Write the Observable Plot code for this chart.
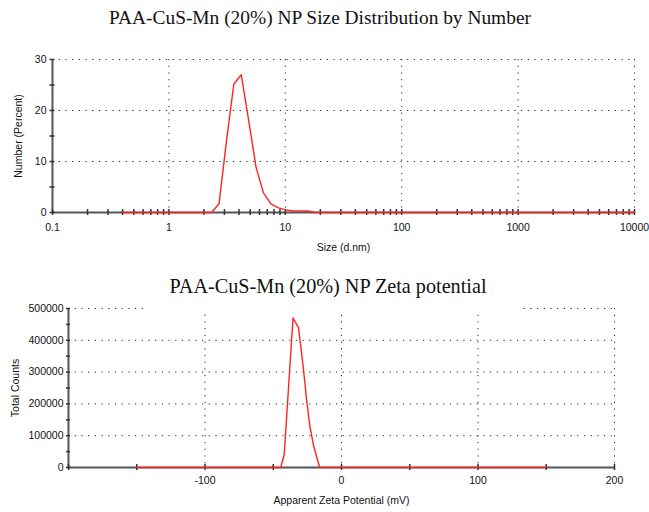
<!DOCTYPE html>
<html>
<head>
<meta charset="utf-8">
<script src="https://cdn.jsdelivr.net/npm/d3@7"></script>
<script src="https://cdn.jsdelivr.net/npm/@observablehq/plot@0.6"></script>
<style>
  html, body { margin: 0; padding: 0; background: #fff; }
  #page { position: relative; width: 649px; height: 512px; overflow: hidden; background: #fff; }
  .title { position: absolute; font-family: "Liberation Serif", "Times New Roman", serif; font-size: 19.4px; color: #111; text-align: center; white-space: nowrap; }
  #t1 { top: 6px; left: 0; width: 640px; line-height: 24px; }
  #t2 { top: 274px; left: 147px; width: 362px; padding-right: 10px; line-height: 24px; height: 37px; background: #fff; z-index: 2; font-size: 20.2px; }
  #c1 { position: absolute; top: 40px; left: 0; }
  #c2 { position: absolute; top: 265px; left: 0; }
</style>
</head>
<body>
<div id="page">
  <div class="title" id="t1">PAA-CuS-Mn (20%) NP Size Distribution by Number</div>
  <div id="c1"></div>
  <div id="c2"></div>
  <div class="title" id="t2">PAA-CuS-Mn (20%) NP Zeta potential</div>
</div>
<script>
// ---- Size distribution by number ----
const sizeNm      = [0.4, 2.328, 2.696, 3.122, 3.615, 4.187, 4.849, 5.615, 6.503, 7.531, 8.721, 10.10, 11.70, 13.54, 15.69, 18.17, 10000];
const numberPct   = [0,   0,     1.7,   14.0,  25.2,  27.0,  18.0,  8.8,   3.8,   1.7,   0.9,   0.5,   0.3,   0.3,   0.3,   0,     0];
const sizeMajorTicks = [0.1, 1, 10, 100, 1000, 10000];
const sizeMinorTicks = [0.2,0.3,0.4,0.5,0.6,0.7,0.8,0.9, 2,3,4,5,6,7,8,9, 20,30,40,50,60,70,80,90, 200,300,400,500,600,700,800,900, 2000,3000,4000,5000,6000,7000,8000,9000];
const numberTicks = [0, 10, 20, 30];
const numberMinorTicks = [5, 15, 25];

// ---- Zeta potential ----
const zetaMv      = [-150, -44.5, -42,   -35.5,  -31.5,  -28,    -25.5,  -23,    -20.5, -18,   -16, 150];
const totalCounts = [0,    0,     40000, 470000, 440000, 315000, 210000, 125000, 70000, 30000, 0,   0];
const zetaTicks   = [-200, -100, 0, 100, 200];
const zetaLabelTicks = [-100, 0, 100, 200];
const zetaMinorTicks = [-150, -50, 50, 150];
const countTicks  = [0, 100000, 200000, 300000, 400000, 500000];
const countMinorTicks = [50000, 150000, 250000, 350000, 450000];

const sizeData = sizeNm.map((s, i) => ({size: s, pct: numberPct[i]}));
const zetaData = zetaMv.map((z, i) => ({zeta: z, counts: totalCounts[i]}));

const AXIS = "#555";
const GRID = "#222";
const RED = "#ff2424";
const DASH = "1.2,5.5";
const textStyle = {fontFamily: "'Liberation Sans', Arial, sans-serif", fontSize: "10.5px", color: "#111", background: "#fff", overflow: "visible"};

const p1 = Plot.plot({
  width: 649, height: 225,
  marginTop: 19, marginBottom: 53, marginLeft: 52, marginRight: 15,
  style: textStyle,
  x: {type: "log", domain: [0.1, 10000]},
  y: {domain: [0, 30]},
  marks: [
    Plot.gridX(sizeMajorTicks.slice(1), {stroke: GRID, strokeOpacity: 1, strokeDasharray: DASH}),
    Plot.gridY(numberTicks.slice(1), {stroke: GRID, strokeOpacity: 1, strokeDasharray: DASH}),
    Plot.ruleX([0.1], {stroke: AXIS, strokeWidth: 2}),
    Plot.ruleY([0], {stroke: AXIS, strokeWidth: 2}),
    Plot.axisX(sizeMajorTicks.concat(sizeMinorTicks), {fill: "none", stroke: "#333", tickSize: 6, dy: -3, label: null, strokeWidth: 1.5}),
    Plot.axisX(sizeMajorTicks, {stroke: "none", tickSize: 0, tickPadding: 11, tickFormat: d => String(d), label: "Size (d.nm)", labelAnchor: "center", labelArrow: "none", labelOffset: 38}),
    Plot.axisY(numberTicks.concat(numberMinorTicks), {fill: "none", stroke: "#333", tickSize: 5, dx: 2.5, label: null, strokeWidth: 1.5}),
    Plot.axisY(numberTicks, {stroke: "none", tickSize: 0, tickPadding: 6, label: "Number (Percent)", labelAnchor: "center", labelArrow: "none", labelOffset: 38}),
    Plot.line(sizeData, {x: "size", y: "pct", stroke: RED, strokeWidth: 1.4})
  ]
});
document.getElementById("c1").appendChild(p1);

const p2 = Plot.plot({
  width: 649, height: 247,
  marginTop: 43, marginBottom: 45, marginLeft: 68, marginRight: 35,
  style: textStyle,
  x: {domain: [-200, 200]},
  y: {domain: [0, 500000]},
  marks: [
    Plot.gridX(zetaLabelTicks, {stroke: GRID, strokeOpacity: 1, strokeDasharray: DASH}),
    Plot.gridY(countTicks.slice(1), {stroke: GRID, strokeOpacity: 1, strokeDasharray: DASH}),
    Plot.ruleX([-200], {stroke: AXIS, strokeWidth: 2}),
    Plot.ruleY([0], {stroke: AXIS, strokeWidth: 2}),
    Plot.axisX(zetaTicks.concat(zetaMinorTicks), {fill: "none", stroke: "#333", tickSize: 6, dy: -3, label: null, strokeWidth: 1.5}),
    Plot.axisX(zetaLabelTicks, {stroke: "none", tickSize: 0, tickPadding: 9, tickFormat: d => String(d), label: "Apparent Zeta Potential (mV)", labelAnchor: "center", labelArrow: "none", labelOffset: 36}),
    Plot.axisY(countTicks.concat(countMinorTicks), {fill: "none", stroke: "#333", tickSize: 4, dx: 2, label: null, strokeWidth: 1.5}),
    Plot.axisY(countTicks, {stroke: "none", tickSize: 0, tickPadding: 5, tickFormat: d => String(d), label: "Total Counts", labelAnchor: "center", labelArrow: "none", labelOffset: 57}),
    Plot.line(zetaData, {x: "zeta", y: "counts", stroke: RED, strokeWidth: 1.4})
  ]
});
document.getElementById("c2").appendChild(p2);
</script>
</body>
</html>
